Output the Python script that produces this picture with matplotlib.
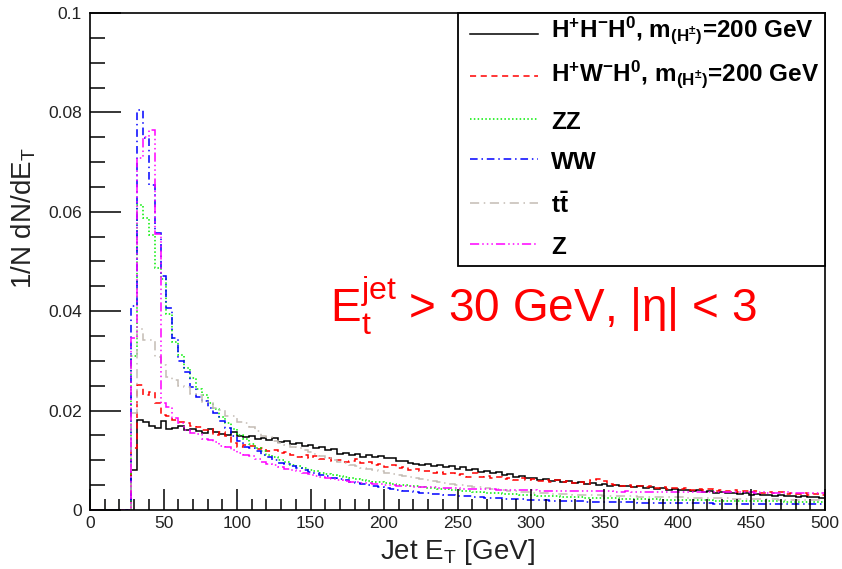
"""
Jet E_T distributions (normalised) for the charged Higgs signal and backgrounds.
"""

import numpy as np
import matplotlib
matplotlib.use("Agg")
import matplotlib.pyplot as plt
from matplotlib.patches import Rectangle
from matplotlib.ticker import MultipleLocator, FuncFormatter

plt.rcParams['font.family'] = ['Liberation Sans', 'DejaVu Sans']
plt.rcParams['mathtext.fontset'] = 'custom'
plt.rcParams['mathtext.rm'] = 'Liberation Sans'
plt.rcParams['mathtext.it'] = 'Liberation Sans:italic'
plt.rcParams['mathtext.bf'] = 'Liberation Sans:bold'

# 4 GeV bins from 0 to 500 GeV; the first 7 bins (0-28 GeV) are empty
bin_width = 4
n_empty = 7

# bin contents from 28 GeV upwards, in units of 1e-3 (1/N dN/dE_T)
hhh0 = [8.0, 18.2, 17.8, 17.0, 16.5, 18.0, 16.2, 16.4, 16.8, 16.0,
        16.2, 15.8, 15.5, 16.3, 15.6, 15.2, 15.0, 15.6, 14.8, 14.6,
        14.9, 14.3, 14.5, 14.0, 14.4, 13.6, 13.8, 13.2, 13.5, 12.9,
        13.0, 12.4, 12.7, 12.1, 12.3, 11.3, 11.5, 11.0, 11.2, 10.6,
        11.0, 10.7, 10.8, 10.4, 10.5, 9.8, 9.9, 9.5, 9.3, 9.0,
        9.3, 8.9, 9.1, 8.6, 8.8, 8.3, 8.6, 8.0, 8.2, 7.7,
        7.9, 7.4, 7.6, 7.0, 7.2, 6.7, 6.8, 6.4, 6.5, 6.1,
        6.2, 5.8, 6.0, 5.6, 5.8, 5.4, 5.6, 5.2, 5.4, 5.1,
        5.3, 4.9, 5.1, 4.8, 4.9, 4.6, 4.8, 4.4, 4.6, 4.3,
        4.5, 4.1, 4.3, 4.0, 4.1, 3.8, 4.0, 3.6, 3.8, 3.5,
        3.7, 3.4, 3.5, 3.2, 3.4, 3.1, 3.3, 3.0, 3.1, 2.9,
        3.0, 2.8, 2.9, 2.7, 2.8, 2.6, 2.7, 2.5]

hwh0 = [12.5, 25.1, 23.2, 23.8, 21.5, 19.1, 19.0, 18.1, 17.8, 17.5,
        16.8, 16.6, 16.1, 16.3, 15.1, 15.6, 14.8, 13.4, 12.7, 13.0,
        12.8, 12.2, 12.5, 11.8, 12.1, 11.4, 11.6, 11.0, 10.7, 11.1,
        10.5, 10.8, 10.2, 10.4, 9.9, 10.1, 9.7, 9.9, 10.2, 9.5,
        9.6, 9.1, 9.3, 8.7, 9.0, 8.4, 8.6, 8.1, 8.3, 7.8,
        7.9, 7.5, 7.7, 7.2, 7.4, 7.0, 7.2, 6.6, 7.4, 6.7,
        6.8, 6.5, 6.7, 6.3, 6.5, 6.1, 6.4, 6.0, 6.3, 5.9,
        6.1, 5.7, 6.0, 5.6, 5.8, 5.4, 5.7, 5.3, 6.1, 6.2,
        5.9, 5.3, 5.1, 4.9, 5.0, 4.7, 4.9, 4.6, 4.8, 4.5,
        4.6, 4.3, 4.5, 4.2, 4.4, 4.1, 4.3, 4.0, 4.2, 3.9,
        4.1, 3.8, 4.0, 3.7, 3.9, 3.6, 3.8, 3.5, 3.7, 3.4,
        3.6, 3.3, 3.5, 3.2, 3.4, 3.1, 3.3, 3.1]

zz = [31.0, 61.4, 58.8, 55.3, 48.7, 46.5, 39.5, 33.8, 31.2, 28.5,
      26.5, 24.4, 23.2, 21.6, 20.3, 18.8, 17.5, 16.3, 15.0, 14.2,
      13.3, 12.5, 11.8, 11.1, 10.6, 10.0, 9.6, 9.1, 8.8, 8.4,
      8.1, 7.8, 7.5, 7.2, 7.0, 6.8, 6.6, 6.4, 6.2, 6.0,
      5.9, 5.7, 5.6, 5.4, 5.3, 5.1, 5.0, 4.9, 4.8, 4.6,
      4.5, 4.4, 4.3, 4.2, 4.1, 4.0, 3.9, 3.8, 3.7, 3.6,
      3.5, 3.5, 3.4, 3.3, 3.3, 3.2, 3.1, 3.1, 3.0, 2.9,
      2.9, 2.8, 2.8, 2.7, 2.7, 2.6, 2.6, 2.5, 2.5, 2.5,
      2.4, 2.4, 2.4, 2.3, 2.3, 2.3, 2.2, 2.2, 2.2, 2.2,
      2.1, 2.1, 2.1, 2.1, 2.0, 2.0, 2.0, 2.0, 2.0, 1.9,
      1.9, 1.9, 1.9, 1.9, 1.8, 1.8, 1.8, 1.8, 1.8, 1.8,
      1.8, 1.7, 1.7, 1.7, 1.7, 1.7, 1.7, 1.7]

ww = [41.0, 80.5, 74.8, 65.4, 55.7, 47.0, 40.6, 34.6, 30.0, 27.8,
      24.8, 22.8, 22.0, 20.5, 19.5, 18.0, 16.5, 14.8, 13.8, 12.7,
      12.5, 11.8, 11.0, 10.6, 10.0, 9.5, 9.2, 8.9, 8.4, 8.0,
      7.7, 7.4, 7.1, 6.8, 6.5, 6.2, 6.0, 5.7, 5.5, 5.2,
      5.0, 4.8, 4.6, 4.4, 4.2, 4.1, 3.9, 3.8, 3.6, 3.5,
      3.4, 3.3, 3.2, 3.1, 3.0, 2.9, 2.8, 2.8, 2.7, 2.6,
      2.5, 2.5, 2.4, 2.3, 2.3, 2.2, 2.2, 2.1, 2.1, 2.0,
      2.0, 1.9, 1.9, 1.9, 1.8, 1.8, 1.8, 1.7, 1.7, 1.7,
      1.7, 1.6, 1.6, 1.6, 1.6, 1.6, 1.5, 1.5, 1.5, 1.5,
      1.5, 1.5, 1.4, 1.4, 1.4, 1.4, 1.4, 1.4, 1.4, 1.3,
      1.3, 1.3, 1.3, 1.3, 1.3, 1.3, 1.3, 1.2, 1.2, 1.2,
      1.2, 1.2, 1.2, 1.2, 1.2, 1.2, 1.2, 1.2]

ttbar = [19.5, 36.5, 34.2, 34.2, 30.8, 29.2, 26.8, 26.2, 25.0, 24.8,
         23.4, 23.1, 21.8, 21.6, 20.5, 20.1, 19.0, 18.9, 17.8, 17.5,
         16.6, 15.8, 14.9, 14.6, 13.9, 13.5, 13.0, 12.7, 12.4, 12.0,
         11.6, 11.2, 10.8, 10.4, 10.0, 9.7, 9.4, 9.1, 8.8, 8.5,
         8.3, 8.0, 7.8, 7.5, 7.3, 7.0, 6.8, 6.6, 6.4, 6.2,
         6.0, 5.8, 5.6, 5.5, 5.3, 5.1, 5.0, 4.9, 4.7, 4.6,
         4.4, 4.3, 4.2, 4.0, 3.9, 3.8, 3.7, 3.6, 3.5, 3.4,
         3.4, 3.3, 3.3, 3.2, 3.2, 3.1, 3.1, 3.0, 3.0, 3.0,
         2.9, 2.9, 2.9, 2.8, 2.8, 2.8, 2.7, 2.7, 2.7, 2.7,
         2.6, 2.6, 2.6, 2.6, 2.5, 2.5, 2.5, 2.5, 2.4, 2.4,
         2.4, 2.4, 2.3, 2.3, 2.3, 2.3, 2.2, 2.2, 2.2, 2.2,
         2.1, 2.1, 2.1, 2.1, 2.0, 2.0, 2.0, 2.0]

zjet = [34.6, 70.8, 75.0, 76.5, 55.5, 21.5, 20.8, 18.5, 17.5, 16.0,
        15.5, 15.2, 14.3, 14.0, 13.6, 12.8, 12.6, 12.0, 11.5, 11.0,
        10.8, 10.2, 9.6, 9.3, 9.0, 8.6, 8.3, 8.0, 7.8, 7.5,
        7.2, 6.9, 6.7, 6.5, 6.2, 6.0, 5.9, 5.7, 5.6, 5.5,
        5.4, 5.3, 5.2, 5.1, 5.0, 4.9, 4.9, 4.8, 4.7, 4.7,
        4.6, 4.6, 4.5, 4.5, 4.4, 4.4, 4.3, 4.3, 4.3, 4.2,
        4.2, 4.2, 4.1, 4.1, 4.1, 4.0, 4.0, 4.0, 4.0, 3.9,
        3.9, 3.9, 3.9, 3.9, 3.8, 3.8, 3.8, 3.8, 3.8, 3.8,
        3.8, 3.8, 3.7, 3.7, 3.8, 3.7, 3.7, 3.7, 3.7, 3.7,
        3.7, 3.7, 3.7, 3.6, 3.7, 3.6, 3.7, 3.6, 3.6, 3.6,
        3.6, 3.6, 3.6, 3.6, 3.6, 3.6, 3.5, 3.6, 3.5, 3.5,
        3.5, 3.6, 3.5, 3.5, 3.5, 3.5, 3.5, 3.5]

labels = [r'$\mathbf{H^{+}H^{-}H^{0}}$, $\mathbf{m_{(H^{\pm})}}$=200 GeV',
          r'$\mathbf{H^{+}W^{-}H^{0}}$, $\mathbf{m_{(H^{\pm})}}$=200 GeV',
          'ZZ', 'WW', r'$\mathbf{t\bar{t}}$', 'Z']


def draw_legend(ax, colors, styles):
    # ROOT-style TLegend box in the upper right quarter of the frame
    ax.add_patch(Rectangle((0.5, 0.491), 0.5, 0.509, transform=ax.transAxes,
                           facecolor='white', edgecolor='black', linewidth=1.3,
                           zorder=5, clip_on=False))
    line_y = [0.958, 0.873, 0.787, 0.706, 0.618, 0.535]
    text_y = [0.951, 0.863, 0.767, 0.686, 0.598, 0.515]
    for c, ls, lab, ly, ty in zip(colors, styles, labels, line_y, text_y):
        ax.plot([0.517, 0.6095], [ly, ly], transform=ax.transAxes, color=c,
                linestyle=ls, linewidth=1.1, zorder=6, clip_on=False)
        ax.text(0.627, ty, lab, transform=ax.transAxes, fontsize=17.5,
                fontweight='bold', va='baseline', zorder=6)


def plot_hists():
    series = [hhh0, hwh0, zz, ww, ttbar, zjet]
    colors = ['black', '#ff0000', '#00ee00', '#0000ff', '#c4bcb4', '#ff00ff']
    styles = ['-', (0, (4, 3)), (0, (1, 1.5)), (0, (5, 2.5, 1, 2.5)),
              (0, (6, 3, 1, 3)), (0, (6, 2, 1, 2, 1, 2, 1, 2))]

    fig = plt.figure(figsize=(8.42, 5.69), dpi=100)
    ax = fig.add_axes([0.1069, 0.1037, 0.8729, 0.8735])

    edges = np.arange(0, 500 + bin_width, bin_width)
    for vals, c, ls in zip(series, colors, styles):
        h = np.concatenate([np.zeros(n_empty), np.array(vals) * 1e-3])
        ax.stairs(h, edges, color=c, linestyle=ls, linewidth=1.1)

    ax.set_xlim(0, 500)
    ax.set_ylim(0, 0.1)
    ax.xaxis.set_major_locator(MultipleLocator(50))
    ax.xaxis.set_minor_locator(MultipleLocator(10))
    ax.yaxis.set_major_locator(MultipleLocator(0.02))
    ax.yaxis.set_minor_locator(MultipleLocator(0.005))
    ax.yaxis.set_major_formatter(FuncFormatter(lambda v, p: '%g' % round(v, 3)))
    ax.tick_params(which='both', direction='in', top=False, right=False,
                   labelsize=12.5, labelcolor='#222222', width=1.1)
    ax.tick_params(axis='x', which='major', length=15, pad=4)
    ax.tick_params(axis='x', which='minor', length=8)
    ax.tick_params(axis='y', which='major', length=22, pad=6)
    ax.tick_params(axis='y', which='minor', length=11)
    for s in ax.spines.values():
        s.set_linewidth(1.2)

    ax.set_xlabel(r'Jet E$_\mathregular{T}$ [GeV]', fontsize=20, color='#222222')
    ax.set_ylabel(r'1/N dN/dE$_\mathregular{T}$', fontsize=20, color='#222222')
    ax.xaxis.set_label_coords(0.5, -0.054)
    ax.yaxis.set_label_coords(-0.071, 0.588)

    draw_legend(ax, colors, styles)

    ax.text(0.3265, 0.378, r'E$_\mathregular{t}^\mathregular{jet}$ > 30 GeV, |η| < 3',
            transform=ax.transAxes, color='#ff0000', fontsize=33, va='baseline')

    fig.savefig('out.png', dpi=100)


if __name__ == '__main__':
    plot_hists()
